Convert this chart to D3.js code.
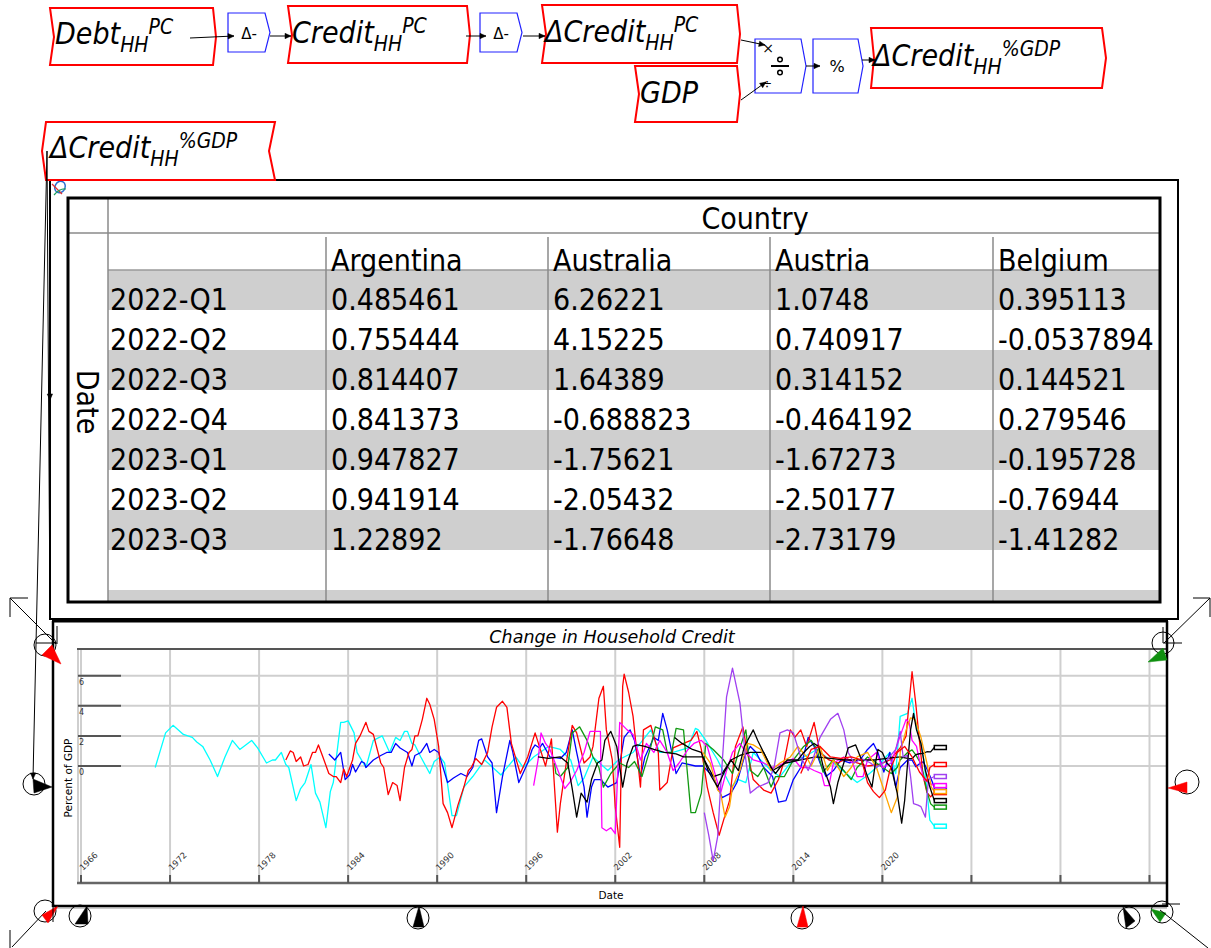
<!DOCTYPE html>
<html><head><meta charset="utf-8">
<script src="https://cdn.jsdelivr.net/npm/d3@7"></script>
<style>body{margin:0;background:#fff;} svg{display:block;}</style>
</head><body>
<svg id="c" width="1211" height="948"></svg>
<script>
// ---------------- DATA ----------------
const tableDates = ["2022-Q1","2022-Q2","2022-Q3","2022-Q4","2023-Q1","2023-Q2","2023-Q3"];
const tableQuarterYears = [2022.0,2022.25,2022.5,2022.75,2023.0,2023.25,2023.5];
const tableCountries = ["Argentina","Australia","Austria","Belgium"];
const argentina = [0.485461,0.755444,0.814407,0.841373,0.947827,0.941914,1.22892];
const australia = [6.26221,4.15225,1.64389,-0.688823,-1.75621,-2.05432,-1.76648];
const austria   = [1.0748,0.740917,0.314152,-0.464192,-1.67273,-2.50177,-2.73179];
const belgium   = [0.395113,-0.0537894,0.144521,0.279546,-0.195728,-0.76944,-1.41282];

const chartTitle = "Change in Household Credit";
const yAxisTitle = "Percent of GDP";
const xAxisTitle = "Date";
const xGridYears = [1966,1972,1978,1984,1990,1996,2002,2008,2014,2020,2026,2032,2038];
const xTickLabels = ["1966","1972","1978","1984","1990","1996","2002","2008","2014","2020"];
const yTicks = [0,2,4,6];

// [year, value] histories
const cyanHist = [[1971.0,-0.1],[1971.7,2.2],[1972.2,2.7],[1972.9,2.1],[1973.5,1.9],[1973.8,1.6],[1974.2,1.3],[1974.7,0.4],[1975.2,-0.7],[1975.7,0.6],[1976.2,1.7],[1976.7,1.1],[1977.1,1.4],[1977.5,1.7],[1977.9,1.2],[1978.5,0.2],[1978.9,0.4],[1979.1,0.4],[1979.5,0.9],[1979.8,0.1],[1980.0,-0.1],[1980.5,-2.3],[1980.8,-1.5],[1981.1,-1.1],[1981.5,0.1],[1981.8,-1.8],[1982.1,-2.4],[1982.5,-4.1],[1982.8,-1.7],[1983.0,-1.1],[1983.5,2.9],[1983.7,2.9],[1984.0,3.0],[1984.4,2.2],[1984.6,0.9],[1985.2,-0.1],[1985.7,1.7],[1986.3,2.0],[1986.8,0.9],[1987.2,1.9],[1987.5,1.7],[1987.8,2.3],[1988.0,2.3],[1988.3,1.5],[1988.5,1.4],[1988.9,0.6],[1989.5,-0.5],[1989.8,0.3],[1990.2,0.6],[1990.5,0.2],[1991.0,-3.3],[1991.3,-3.3],[1991.8,-1.4],[1992.4,-0.7],[1993.2,0.4],[1994.3,-0.6],[1995.3,0.6],[1995.8,-0.1],[1996.5,0.6],[1997.5,1.3],[1998.3,1.1],[1999.0,0.4],[1999.5,-1.3],[1999.9,-0.8],[2000.5,0.6],[2001.5,-0.3],[2002.2,0.4],[2003.2,0.9],[2004.4,2.4],[2005.0,0.9],[2005.9,0.9],[2006.9,1.2],[2007.4,2.5],[2007.6,2.4],[2008.1,1.7],[2008.9,0.4],[2009.8,-1.4],[2010.3,-0.9],[2010.8,-1.1],[2011.3,0.9],[2012.5,-0.3],[2013.1,-0.7],[2013.8,0.2],[2014.7,0.6],[2015.6,1.1],[2016.7,0.2],[2018.3,-1.1],[2018.9,-0.7],[2019.6,-0.1],[2020.5,0.9],[2020.9,-0.5],[2021.2,3.3],[2021.7,3.5],[2022.0,4.5],[2022.2,3.1],[2022.8,0.4],[2023.2,-3.6],[2023.5,-4.0]];

const australiaHist = [[1979.8,0.4],[1980.1,1.0],[1980.3,0.9],[1980.5,0.3],[1980.8,0.6],[1981.0,0.0],[1981.3,0.1],[1981.6,0.9],[1981.8,0.9],[1982.0,1.4],[1982.3,0.6],[1982.7,-0.5],[1983.0,-0.7],[1983.2,-0.7],[1983.5,-1.1],[1983.7,-0.2],[1983.9,-0.7],[1984.3,0.4],[1984.5,1.5],[1984.8,2.0],[1985.2,2.9],[1985.4,2.3],[1985.7,2.1],[1986.2,0.2],[1986.4,-0.1],[1986.7,-1.9],[1987.0,-1.1],[1987.3,-1.3],[1987.5,-2.3],[1987.8,-0.1],[1988.1,0.9],[1988.3,1.1],[1988.5,2.0],[1988.7,2.0],[1989.0,3.1],[1989.3,4.5],[1989.5,4.1],[1989.8,3.1],[1990.1,1.3],[1990.4,-2.5],[1990.7,-3.1],[1991.0,-4.1],[1991.4,-2.6],[1991.8,-1.4],[1992.1,-0.3],[1992.3,-0.1],[1992.6,0.5],[1993.0,0.1],[1993.4,0.9],[1993.7,2.6],[1994.0,3.9],[1994.4,4.3],[1994.7,3.9],[1995.0,1.5],[1995.6,-0.5],[1996.1,0.6],[1996.6,2.2],[1997.3,0.0],[1997.7,1.8],[1998.1,-4.4],[1998.3,-2.5],[1998.7,0.2],[1999.1,2.7],[1999.4,2.2],[1999.9,0.2],[2000.3,0.6],[2000.5,1.3],[2000.9,4.5],[2001.2,5.3],[2001.4,2.4],[2001.8,0.4],[2002.0,-2.7],[2002.3,-5.4],[2002.5,5.3],[2002.6,6.1],[2002.9,4.9],[2003.2,3.3],[2003.7,-1.4],[2003.9,2.4],[2004.4,2.7],[2004.9,0.9],[2005.0,-1.6],[2005.5,-1.1],[2005.9,1.2],[2006.6,1.5],[2007.1,1.7],[2007.5,2.3],[2007.8,1.1],[2008.2,-1.4],[2008.6,-3.1],[2009.0,-4.6],[2009.3,-3.6],[2009.7,-2.3],[2010.1,1.3],[2010.6,2.6],[2010.9,0.9],[2011.3,-0.9],[2012.0,-1.6],[2012.5,-1.8],[2013.0,-0.9],[2013.4,0.4],[2013.8,2.4],[2014.1,1.9],[2014.5,2.4],[2014.9,1.3],[2015.4,2.9],[2015.8,0.9],[2016.4,0.4],[2017.0,0.2],[2017.6,0.5],[2018.3,0.2],[2019.0,0.0],[2019.8,0.1],[2020.5,0.4],[2021.2,1.2],[2021.6,2.0],[2021.8,4.2]];

const belgiumHist = [[1982.7,0.8],[1983.1,0.4],[1983.5,0.9],[1983.8,-0.9],[1984.1,-0.6],[1984.3,0.1],[1984.5,-0.4],[1984.9,0.3],[1985.1,0.2],[1985.2,-0.1],[1985.7,0.4],[1986.2,0.7],[1986.6,0.9],[1986.9,0.9],[1987.2,1.5],[1987.5,1.2],[1988.0,0.9],[1988.3,0.0],[1988.5,0.7],[1988.9,0.9],[1989.3,1.5],[1989.5,0.9],[1989.8,1.1],[1990.1,0.9],[1990.7,-1.1],[1991.1,-0.8],[1991.6,-0.5],[1992.0,-0.7],[1992.4,-0.1],[1992.8,1.7],[1993.0,1.8],[1993.4,0.6],[1993.7,0.2],[1994.0,-3.1],[1994.4,-0.7],[1994.9,1.7],[1995.1,0.9],[1995.5,-1.1],[1996.1,0.2],[1996.4,1.1],[1996.6,1.4],[1996.9,1.2],[1997.1,1.5],[1997.6,0.6],[1998.3,0.5],[1998.7,0.9],[1999.1,2.4],[1999.4,0.9],[1999.9,-1.4],[2000.1,-3.4],[2000.4,-1.4],[2000.6,-0.9],[2001.0,-0.9],[2001.5,-1.4],[2002.1,-1.1],[2002.6,1.9],[2003.0,2.4],[2003.3,1.7],[2003.7,-0.7],[2004.0,0.6],[2004.6,1.9],[2004.9,1.7],[2005.2,3.5],[2005.5,2.4],[2006.1,-0.5],[2006.5,0.2],[2007.4,0.0],[2007.9,0.0],[2008.6,-0.7],[2009.2,-2.1],[2009.8,-1.8],[2010.2,-1.1],[2010.7,0.6],[2011.1,1.3],[2011.5,0.9],[2012.0,-0.1],[2012.6,-0.7],[2013.0,-2.4],[2013.5,-2.3],[2014.0,-0.9],[2014.5,-0.1],[2015.0,1.9],[2015.4,1.3],[2015.8,0.2],[2016.2,-0.7],[2016.7,-0.3],[2017.2,0.4],[2017.8,0.2],[2018.5,0.4],[2019.0,1.1],[2019.4,1.5],[2019.7,0.9],[2020.1,-0.4],[2020.5,0.9],[2020.9,-1.4],[2021.2,-0.1],[2021.7,0.4]];

const austriaHist = [[1997.9,0.2],[1998.0,-0.5],[1998.3,-0.7],[1998.8,-0.1],[1999.1,2.2],[1999.6,2.6],[2000.1,1.7],[2000.5,0.6],[2000.9,-0.1],[2001.2,-1.4],[2001.7,-0.5],[2002.3,0.2],[2002.9,-0.1],[2003.3,0.3],[2003.8,-0.7],[2004.4,1.3],[2004.7,2.6],[2005.2,2.4],[2005.5,0.9],[2005.8,0.9],[2006.1,2.5],[2006.6,2.4],[2006.9,-0.9],[2007.1,-3.1],[2007.4,-3.1],[2007.8,-1.8],[2008.1,1.5],[2008.6,1.1],[2009.3,0.4],[2009.9,-0.5],[2010.3,0.9],[2010.8,2.4],[2011.1,-0.3],[2011.6,-0.7],[2012.0,-0.1],[2012.5,-1.4],[2012.8,-0.7],[2013.4,-0.7],[2014.0,0.4],[2014.7,1.3],[2015.2,1.7],[2015.6,1.1],[2016.0,-0.4],[2016.7,0.4],[2017.4,-0.3],[2017.9,-0.9],[2018.3,-0.1],[2019.0,0.6],[2019.6,0.2],[2020.6,-0.5],[2021.0,-0.1],[2021.2,0.4],[2021.7,0.9]];

const argentinaHist = [[1996.8,0.6],[1997.5,0.5],[1998.3,0.6],[1998.8,0.2],[1999.1,-1.5],[1999.4,-3.4],[1999.7,-1.8],[2000.1,-2.4],[2000.4,-0.9],[2000.8,0.2],[2001.1,0.4],[2001.3,1.7],[2001.7,2.3],[2002.1,1.3],[2002.5,-1.4],[2002.8,0.2],[2003.2,1.3],[2003.5,1.4],[2004.0,1.3],[2004.6,1.1],[2005.3,0.9],[2006.1,0.8],[2006.6,0.6],[2007.3,0.6],[2007.9,0.6],[2008.6,-0.7],[2009.2,-0.5],[2009.8,0.4],[2010.4,0.7],[2011.1,0.9],[2012.0,0.9],[2012.6,-0.3],[2013.5,0.2],[2014.5,0.4],[2015.5,0.6],[2016.5,0.5],[2017.5,0.4],[2018.5,0.4],[2019.5,0.4],[2020.3,0.5],[2021.2,0.6],[2021.7,0.5]];

const magentaHist = [[1996.5,-1.3],[1996.8,0.4],[1997.0,2.2],[1997.3,1.5],[1997.6,1.1],[1998.6,-1.5],[1999.0,-1.0],[1999.4,-0.3],[1999.9,0.9],[2000.3,2.3],[2001.0,2.3],[2001.1,-4.1],[2001.4,-4.3],[2001.7,-4.1],[2002.0,-4.5],[2002.3,2.9],[2002.8,2.4],[2003.2,2.1],[2003.7,0.4],[2004.1,1.5],[2004.6,0.9],[2005.0,1.7],[2005.5,0.9],[2005.9,-0.3],[2006.3,0.2],[2006.9,1.1],[2007.3,1.5],[2007.8,1.7],[2008.2,1.3],[2008.6,-0.1],[2009.1,-1.8],[2009.5,-0.3],[2009.9,0.9],[2010.4,1.5],[2010.8,0.9],[2011.3,0.4],[2012.0,0.2],[2012.6,-0.1],[2013.4,0.2],[2014.0,0.5],[2014.5,-0.1],[2015.0,-0.1],[2015.4,-0.3],[2015.9,-0.5],[2016.1,-1.3],[2016.4,-1.3],[2016.7,0.2],[2017.4,0.6],[2018.0,0.2],[2018.3,-0.7],[2018.7,-0.7],[2019.0,0.4],[2019.6,0.9],[2020.0,-0.1],[2020.6,0.2],[2021.2,2.0],[2021.6,3.1],[2021.8,2.9],[2022.0,1.7],[2022.3,1.3],[2022.6,-0.1],[2022.8,-0.9],[2023.1,-1.1],[2023.5,-1.3]];

const purpleHist = [[2008.0,-3.1],[2008.3,-4.6],[2008.6,-6.3],[2008.9,-4.7],[2009.1,-1.4],[2009.5,4.6],[2009.9,6.5],[2010.4,4.2],[2010.8,0.4],[2011.1,-1.8],[2011.6,-1.4],[2012.3,-1.1],[2012.7,-0.1],[2013.1,2.2],[2013.6,2.4],[2014.0,2.2],[2014.5,0.6],[2015.0,-0.3],[2015.3,0.4],[2015.8,1.9],[2016.5,3.1],[2017.0,3.5],[2017.4,2.4],[2017.7,0.9],[2018.1,0.2],[2018.6,0.5],[2019.2,0.2],[2019.6,-0.1],[2020.3,0.4],[2020.9,1.1],[2021.2,2.3],[2021.4,0.6],[2021.7,0.7],[2021.9,-0.7],[2022.1,-2.5],[2022.4,-2.6],[2022.6,-2.7],[2022.9,-3.4],[2023.1,-0.9],[2023.5,-0.7]];

const orangeHist = [[2007.9,0.9],[2008.4,0.2],[2008.9,-1.6],[2009.1,-1.8],[2009.4,-3.4],[2009.7,-2.7],[2009.9,-1.4],[2010.4,-0.3],[2010.9,1.5],[2011.3,1.4],[2011.8,1.1],[2012.5,-0.3],[2013.1,0.2],[2013.8,0.6],[2014.3,1.3],[2014.9,0.6],[2015.2,0.0],[2015.4,0.4],[2015.8,1.3],[2016.3,-0.3],[2016.7,0.4],[2017.4,-0.7],[2017.9,-0.1],[2018.3,0.6],[2019.0,0.9],[2019.6,-0.1],[2020.0,-1.3],[2020.6,-3.1],[2021.0,-2.1],[2021.2,0.9],[2021.6,2.4],[2021.9,3.2],[2022.2,3.1],[2022.6,1.9],[2023.0,0.2],[2023.3,-1.4],[2023.5,-1.7]];

const blackBHist = [[2006.0,1.9],[2006.5,1.5],[2007.2,1.1],[2007.8,0.9],[2008.3,-0.4],[2008.9,-1.4],[2009.3,-0.5],[2009.8,0.4],[2010.3,-0.3],[2010.7,1.3],[2011.3,2.4],[2011.6,1.7],[2012.5,-0.1],[2012.8,-0.5],[2013.1,-0.1],[2013.6,0.4],[2014.3,0.4],[2014.7,0.9],[2015.1,1.3],[2015.4,1.5],[2015.7,1.3],[2016.0,0.0],[2016.5,-1.4],[2016.7,-2.5],[2017.0,-1.1],[2017.4,0.2],[2017.7,1.2],[2018.2,1.4],[2018.6,0.4],[2019.0,-0.7],[2019.3,-1.4],[2019.5,0.0],[2019.7,1.1],[2020.0,0.9],[2020.3,0.2],[2020.6,-0.1],[2021.0,-1.8],[2021.3,-3.8],[2021.5,-2.3],[2021.7,0.2],[2021.9,2.4],[2022.1,3.5],[2022.3,2.4],[2022.6,1.5],[2022.9,-0.3],[2023.2,-1.4],[2023.5,-2.3]];

const redBHist = [[2014.5,-0.5],[2015.2,1.1],[2015.8,1.3],[2016.5,0.6],[2017.2,0.5],[2017.9,0.6],[2018.6,0.4],[2019.0,-1.1],[2019.4,-1.7],[2019.8,-2.1],[2020.2,-1.6],[2020.5,-0.3],[2021.0,0.9],[2021.5,1.3],[2022.0,0.6],[2022.5,-0.4],[2023.0,-1.0],[2023.2,-0.1],[2023.5,0.1]];

const seriesColors = {cyan:"#00ffff", red:"#ff0000", blue:"#0000ff", green:"#119911", magenta:"#ff00ff", black:"#000000", purple:"#a040f0", orange:"#ffa500"};

// ---------------- DRAWING ----------------
const svg = d3.select("#c");
const CF = "'DejaVu Sans Condensed','DejaVu Sans',sans-serif";
const PF = "'DejaVu Sans','Verdana',sans-serif";

function poly(pts, stroke, sw, fill){
  return svg.append("polygon").attr("points", pts.map(p=>p.join(",")).join(" "))
    .attr("fill", fill||"#fff").attr("stroke", stroke).attr("stroke-width", sw);
}
function line(x1,y1,x2,y2,stroke,sw){
  return svg.append("line").attr("x1",x1).attr("y1",y1).attr("x2",x2).attr("y2",y2)
    .attr("stroke",stroke||"#000").attr("stroke-width",sw||1);
}
function arrow(x1,y1,x2,y2,s){
  s = s||5;
  line(x1,y1,x2,y2,"#000",1);
  const a = Math.atan2(y2-y1,x2-x1);
  const p1=[x2 - s*Math.cos(a) + s*0.45*Math.sin(a), y2 - s*Math.sin(a) - s*0.45*Math.cos(a)];
  const p2=[x2 - s*Math.cos(a) - s*0.45*Math.sin(a), y2 - s*Math.sin(a) + s*0.45*Math.cos(a)];
  poly([[x2,y2],p1,p2],"#000",0.5,"#000");
}
function varText(x,y,main,sub,sup,fs){
  const t = svg.append("text").attr("x",x).attr("y",y).attr("font-family",CF)
    .attr("font-stretch","condensed").attr("font-style","italic").attr("font-size",fs).attr("fill","#000");
  t.append("tspan").text(main);
  if(sub) t.append("tspan").attr("font-size",fs*0.7).attr("dy",8).text(sub);
  if(sup) t.append("tspan").attr("font-size",fs*0.7).attr("dy",sub?-18:-10).text(sup);
}
function opBox(x0,y0,x1,y1){
  const ym=(y0+y1)/2;
  poly([[x0,y0],[x1-5,y0],[x1,ym],[x1-5,y1],[x0,y1]],"#2222ff",1.2,"#fff");
}

// ----- Table frames (behind diagram boxes)
svg.append("rect").attr("x",50).attr("y",180).attr("width",1128).attr("height",439)
  .attr("fill","#fff").attr("stroke","#000").attr("stroke-width",2);
const rowY0 = 270, rowH = 40;
const shadeRows = [0,2,4,6,8];
svg.selectAll("rect.shade").data(shadeRows).enter().append("rect").attr("class","shade")
  .attr("x",108).attr("width",1052)
  .attr("y",d=>rowY0+d*rowH)
  .attr("height",d=>Math.min(rowH, 602-(rowY0+d*rowH)))
  .attr("fill","#cfcfcf");
line(108,270,1160,270,"#9a9a9a",1.5);
line(68,233,1160,233,"#8a8a8a",1.5);
line(108,198,108,602,"#8a8a8a",1.5);
const colX = [326,548,770,993];
colX.forEach(cx=>line(cx,237,cx,602,"#8a8a8a",1.5));
svg.append("rect").attr("x",68).attr("y",198).attr("width",1092).attr("height",404)
  .attr("fill","none").attr("stroke","#000").attr("stroke-width",3);

svg.append("text").attr("x",755).attr("y",229).attr("text-anchor","middle")
  .attr("font-family",CF).attr("font-stretch","condensed").attr("font-size",30).text("Country");
svg.append("text").attr("transform","translate(77,402) rotate(90)").attr("text-anchor","middle")
  .attr("font-family",CF).attr("font-stretch","condensed").attr("font-size",30).text("Date");
svg.selectAll("text.colh").data(tableCountries).enter().append("text").attr("class","colh")
  .attr("x",(d,i)=>colX[i]+5).attr("y",271).attr("font-family",CF).attr("font-stretch","condensed")
  .attr("font-size",30).text(d=>d);
svg.selectAll("text.rowh").data(tableDates).enter().append("text").attr("class","rowh")
  .attr("x",110).attr("y",(d,i)=>310+i*rowH).attr("font-family",CF).attr("font-stretch","condensed")
  .attr("font-size",30).text(d=>d);
[argentina,australia,austria,belgium].forEach((col,ci)=>{
  svg.selectAll("text.v"+ci).data(col).enter().append("text").attr("class","v"+ci)
    .attr("x",colX[ci]+5).attr("y",(d,i)=>310+i*rowH).attr("font-family",CF).attr("font-stretch","condensed")
    .attr("font-size",30).text(d=>String(d));
});

// ----- Minsky logo
svg.append("ellipse").attr("cx",60).attr("cy",187).attr("rx",5).attr("ry",6).attr("fill","none").attr("stroke","#2a6fd0").attr("stroke-width",1.5).attr("transform","rotate(30,60,187)");
svg.append("path").attr("d","M52,184 Q58,190 62,194").attr("fill","none").attr("stroke","#e03030").attr("stroke-width",1.2);
svg.append("path").attr("d","M54,195 Q60,188 66,189").attr("fill","none").attr("stroke","#20a060").attr("stroke-width",1.2);

// ----- Diagram boxes
const FS = 30;
poly([[50,8],[213,8],[216,37],[213,65],[50,65],[54,37]],"#ff0000",2);
varText(55,44,"Debt","HH","PC",FS);
poly([[288,6],[467,6],[470,35],[467,63],[288,63],[292,35]],"#ff0000",2);
varText(292,43,"Credit","HH","PC",FS);
poly([[542,5],[737,5],[740,34],[737,63],[542,63],[546,34]],"#ff0000",2);
varText(545,42,"ΔCredit","HH","PC",FS);
poly([[635,66],[737,66],[740,94],[737,122],[635,122],[639,94]],"#ff0000",2);
varText(640,103,"GDP",null,null,FS);
poly([[871,28],[1102,28],[1106,58],[1102,88],[871,88],[874,58]],"#ff0000",2);
varText(873,66,"ΔCredit","HH","%GDP",FS);
poly([[46,122],[275,122],[269,151],[275,180],[46,180],[42,151]],"#ff0000",2);
varText(50,158,"ΔCredit","HH","%GDP",FS);

// operation boxes
opBox(228,13,270,52);
svg.append("text").attr("x",249).attr("y",39).attr("text-anchor","middle").attr("font-family",PF).attr("font-size",15).text("Δ-");
opBox(480,13,522,52);
svg.append("text").attr("x",501).attr("y",39).attr("text-anchor","middle").attr("font-family",PF).attr("font-size",15).text("Δ-");
opBox(755,39,806,93);
svg.append("text").attr("x",768).attr("y",53).attr("text-anchor","middle").attr("font-family",PF).attr("font-size",14).text("×");
svg.append("text").attr("x",767).attr("y",88).attr("text-anchor","middle").attr("font-family",PF).attr("font-size",12).text("÷");
line(771,66,789,66,"#000",2);
svg.append("circle").attr("cx",780).attr("cy",59.5).attr("r",2.3).attr("fill","none").attr("stroke","#000").attr("stroke-width",1.5);
svg.append("circle").attr("cx",780).attr("cy",72.5).attr("r",2.3).attr("fill","none").attr("stroke","#000").attr("stroke-width",1.5);
opBox(813,39,863,93);
svg.append("text").attr("x",837).attr("y",72).attr("text-anchor","middle").attr("font-family",PF).attr("font-size",16).text("%");

// wires
arrow(190,38,234,36,6);
arrow(270,36,291,36,6);
arrow(466,36,486,36,6);
arrow(523,36,545,36,6);
arrow(741,40,765,45,6);
arrow(741,100,766,82,6);
arrow(806,66,820,66,6);
arrow(862,60,875,60,6);
line(47,151,50,619,"#000",1);
arrow(49.6,380,50,400,6);
arrow(47,151,33,779,6);

// ---------------- PLOT ----------------
const x = d3.scaleLinear().domain([1966,2038]).range([81,1149.5]);
const y = d3.scaleLinear().domain([0,6]).range([766,675.7]);
const plotL = 78, plotR = 1167, plotT = 649, plotB = 883;

svg.append("rect").attr("x",53).attr("y",622).attr("width",1114).attr("height",285).attr("fill","#fff");
svg.selectAll("line.vg").data(xGridYears).enter().append("line").attr("class","vg")
  .attr("x1",d=>x(d)).attr("x2",d=>x(d)).attr("y1",plotT).attr("y2",plotB)
  .attr("stroke","#cfcfcf").attr("stroke-width",2);
line(plotL,plotT,plotL,plotB,"#cfcfcf",2);
svg.selectAll("line.hg").data(yTicks).enter().append("line").attr("class","hg")
  .attr("x1",plotL).attr("x2",plotR).attr("y1",d=>y(d)).attr("y2",d=>y(d))
  .attr("stroke","#cfcfcf").attr("stroke-width",2);
svg.selectAll("line.hgd").data(yTicks).enter().append("line").attr("class","hgd")
  .attr("x1",plotL).attr("x2",121).attr("y1",d=>y(d)).attr("y2",d=>y(d))
  .attr("stroke","#555").attr("stroke-width",2);
svg.selectAll("text.yt").data(yTicks).enter().append("text").attr("class","yt")
  .attr("x",79).attr("y",d=>y(d)+9).attr("font-family",PF).attr("font-size",8).attr("fill","#333").text(d=>d);
line(plotL-1,plotT,plotR,plotT,"#555",2);
line(plotL-1,plotB,plotR,plotB,"#666",2.5);
svg.selectAll("line.xt").data(xGridYears).enter().append("line").attr("class","xt")
  .attr("x1",d=>x(d)).attr("x2",d=>x(d)).attr("y1",plotB-8).attr("y2",plotB)
  .attr("stroke","#555").attr("stroke-width",2);
svg.selectAll("text.xtl").data(xTickLabels).enter().append("text").attr("class","xtl")
  .attr("transform",d=>`translate(${x(+d)+2},871) rotate(-45)`)
  .attr("font-family",PF).attr("font-size",8.5).attr("fill","#333").text(d=>d);

const withTable = (hist, vals)=>hist.concat(tableQuarterYears.map((q,i)=>[q,vals[i]]));
const series = [
  {data: cyanHist, color: seriesColors.cyan},
  {data: withTable(belgiumHist, belgium), color: seriesColors.blue},
  {data: withTable(australiaHist, australia), color: seriesColors.red},
  {data: withTable(austriaHist, austria), color: seriesColors.green},
  {data: magentaHist, color: seriesColors.magenta},
  {data: withTable(argentinaHist, argentina), color: seriesColors.black},
  {data: orangeHist, color: seriesColors.orange},
  {data: purpleHist, color: seriesColors.purple},
  {data: blackBHist, color: seriesColors.black},
  {data: redBHist, color: seriesColors.red}
];
const lineGen = d3.line().x(d=>x(d[0])).y(d=>y(d[1]));
svg.selectAll("path.s").data(series).enter().append("path").attr("class","s")
  .attr("d",d=>lineGen(d.data)).attr("fill","none").attr("stroke",d=>d.color)
  .attr("stroke-width",1.3).attr("stroke-linejoin","round");
svg.selectAll("rect.end").data(series).enter().append("rect").attr("class","end")
  .attr("x",d=>x(d.data[d.data.length-1][0]))
  .attr("y",d=>y(d.data[d.data.length-1][1])-2)
  .attr("width",12).attr("height",4)
  .attr("fill","#fff").attr("stroke",d=>d.color).attr("stroke-width",1.5);

svg.append("text").attr("x",612).attr("y",643).attr("text-anchor","middle").attr("font-family",PF)
  .attr("font-style","italic").attr("font-size",17.5).text(chartTitle);
svg.append("text").attr("transform","translate(72,778) rotate(-90)").attr("text-anchor","middle")
  .attr("font-family",PF).attr("font-size",10.5).text(yAxisTitle);
svg.append("text").attr("x",611).attr("y",899).attr("text-anchor","middle")
  .attr("font-family",PF).attr("font-size",10.5).text(xAxisTitle);

// plot frame
line(52,621,1168,621,"#000",3);
line(53,621,53,907,"#000",2.5);
line(1167,621,1167,907,"#000",2.5);
line(53,906,1167,906,"#000",2.5);
line(53,908,1167,908,"#999",1);

// ---------- handles / ports decorations ----------
function circ(cx,cy,r){ svg.append("circle").attr("cx",cx).attr("cy",cy).attr("r",r).attr("fill","none").attr("stroke","#000").attr("stroke-width",1); }
line(10,598,28,598); line(10,598,10,617); line(10,598,56,644);
circ(45,645,11); line(36,643,57,643); line(57,626,57,644);
poly([[42,655],[52,645],[61,664]],"#f00",0.5,"#f00");
line(1193,598,1210,598); line(1210,598,1210,617); line(1210,598,1164,643);
circ(1163,643,11); line(1163,627,1163,643); line(1163,643,1182,643);
poly([[1148,662],[1163,648],[1167,660]],"#109010",0.5,"#109010");
circ(34,784,11);
poly([[33,779],[52,787],[34,793]],"#000",0.5,"#000");
circ(1187,782,12);
poly([[1168,788],[1187,782],[1187,793]],"#f00",0.5,"#f00");
line(10,930,10,948); line(12,947,46,911);
circ(45,911,11);
poly([[42,915],[58,906],[48,923]],"#f00",0.5,"#f00");
line(53,898,53,922); line(53,906,61,906);
circ(80,916,11);
poly([[75,924],[87,906],[88,924]],"#000",0.5,"#000");
circ(418,918,11);
poly([[413,927],[419,906],[424,927]],"#000",0.5,"#000");
circ(802,918,11);
poly([[797,927],[803,906],[808,927]],"#f00",0.5,"#f00");
circ(1129,918,11);
poly([[1123,907],[1135,921],[1126,928]],"#000",0.5,"#000");
circ(1162,912,11);
poly([[1151,909],[1166,913],[1160,922]],"#109010",0.5,"#109010");
line(1162,904,1180,904); line(1160,910,1208,948);
</script>
</body></html>
